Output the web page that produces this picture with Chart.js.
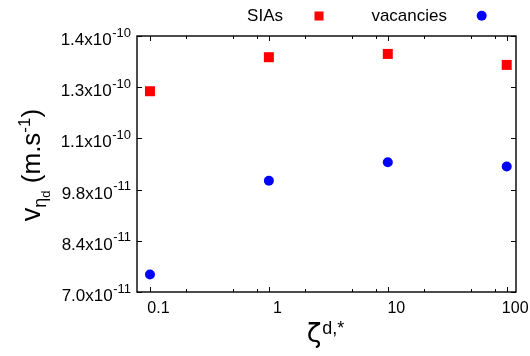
<!DOCTYPE html>
<html><head><meta charset="utf-8">
<script src="https://cdn.jsdelivr.net/npm/chart.js@4"></script>
<style>html,body{margin:0;padding:0;background:#fff}#wrap{width:530px;height:356px;position:relative}</style>
</head><body><div id="wrap"><canvas id="c"></canvas></div>
<script>
const xValues=[0.1,1,10,100];
const siaValues=[1.249e-10,1.342e-10,1.351e-10,1.321e-10];
const vacancyValues=[7.48e-11,1.004e-10,1.055e-10,1.043e-10];
const yTickValues=[7.0e-11,8.4e-11,9.8e-11,1.12e-10,1.26e-10,1.4e-10];
const yTickMantissas=['7.0','8.4','9.8','1.1','1.3','1.4'];
const yTickExponents=['-11','-11','-11','-10','-10','-10'];
const xTickValues=[0.1,1,10,100];
const xTickLabels=['0.1','1','10','100'];
const xMinorTickValues=[0.2,0.5,0.8,2,5,8,20,50,80];
const seriesNames=['SIAs','vacancies'];

const FONT='"Liberation Sans", Arial, Helvetica, sans-serif';
function f(s,fam){return s+'px '+(fam||FONT);}
function drawPieces(ctx,pieces,x,y){
  let w=0;pieces.forEach(p=>{ctx.font=f(p.size,p.fam);p.w=ctx.measureText(p.t).width;w+=p.w+(p.gap||0);});
  let cx=x-w/2;
  pieces.forEach(p=>{cx+=(p.gap||0);ctx.font=f(p.size,p.fam);ctx.fillText(p.t,cx,y+p.dy);cx+=p.w;});
}
const deco={id:'deco',
 afterDatasetsDraw(chart){
  const ctx=chart.ctx,a=chart.chartArea,xs=chart.scales.x,ys=chart.scales.y;
  ctx.save();
  ctx.strokeStyle='#000';ctx.lineWidth=1.4;
  ctx.strokeRect(a.left,a.top,a.right-a.left,a.bottom-a.top);
  ctx.lineWidth=1;ctx.beginPath();
  xTickValues.forEach(v=>{const p=Math.round(xs.getPixelForValue(v))+0.5;ctx.moveTo(p,a.bottom);ctx.lineTo(p,a.bottom-5);ctx.moveTo(p,a.top);ctx.lineTo(p,a.top+5);});
  xMinorTickValues.forEach(v=>{const p=Math.round(xs.getPixelForValue(v))+0.5;ctx.moveTo(p,a.bottom);ctx.lineTo(p,a.bottom-3);ctx.moveTo(p,a.top);ctx.lineTo(p,a.top+3);});
  yTickValues.forEach(v=>{const p=Math.round(ys.getPixelForValue(v))+0.5;ctx.moveTo(a.left,p);ctx.lineTo(a.left+5,p);ctx.moveTo(a.right,p);ctx.lineTo(a.right-5,p);});
  ctx.stroke();
  ctx.fillStyle='#000';ctx.textBaseline='alphabetic';
  // x tick labels
  ctx.font=f(16);ctx.textAlign='center';
  xTickValues.forEach((v,i)=>{ctx.fillText(xTickLabels[i],xs.getPixelForValue(v)+8.5,313);});
  // y tick labels
  yTickValues.forEach((v,i)=>{
    const p=ys.getPixelForValue(v);const xe=a.left-6;
    ctx.font=f(13);ctx.textAlign='left';const ew=ctx.measureText(yTickExponents[i]).width;
    ctx.fillText(yTickExponents[i],xe-ew,p+0.5);
    ctx.font=f(17);ctx.textAlign='right';
    ctx.fillText(yTickMantissas[i]+'x10',xe-ew-0.5,p+9);
  });
  ctx.textAlign='left';
  // x title
  drawPieces(ctx,[{t:'ζ',size:27,dy:0,fam:'"DejaVu Sans", sans-serif'},{t:'d,*',size:18,dy:-8,gap:1}],(a.left+a.right)/2-1,342);
  // y title
  ctx.save();ctx.translate(40,(a.top+a.bottom)/2+1);ctx.rotate(-Math.PI/2);
  drawPieces(ctx,[{t:'v',size:27,dy:0},{t:'η',size:18,dy:6},{t:'d',size:13,dy:10},{t:' (m.s',size:26,dy:0},{t:'-1',size:17,dy:-10},{t:')',size:26,dy:0}],0,0);
  ctx.restore();
  // legend
  ctx.font=f(17);ctx.textAlign='right';
  ctx.fillText(seriesNames[0],283,21);
  ctx.fillText(seriesNames[1],447,21);
  ctx.fillStyle='#ff0000';ctx.fillRect(314.5,11.5,9,9);
  ctx.fillStyle='#0000ff';ctx.beginPath();ctx.arc(481.7,15.7,5,0,Math.PI*2);ctx.fill();
  ctx.restore();
 }};
new Chart(document.getElementById('c'),{
  type:'scatter',
  data:{datasets:[
    {label:seriesNames[0],data:xValues.map((x,i)=>({x:x,y:siaValues[i]})),pointStyle:'rect',pointRadius:7.07,pointHoverRadius:7.07,backgroundColor:'#ff0000',borderWidth:0,pointBorderWidth:0},
    {label:seriesNames[1],data:xValues.map((x,i)=>({x:x,y:vacancyValues[i]})),pointStyle:'circle',pointRadius:5,pointHoverRadius:5,backgroundColor:'#0000ff',borderWidth:0,pointBorderWidth:0}
  ]},
  options:{responsive:true,maintainAspectRatio:false,animation:false,devicePixelRatio:1,
    layout:{padding:{left:137,right:14,top:36,bottom:64}},
    plugins:{legend:{display:false},tooltip:{enabled:false}},
    events:[],
    scales:{
      x:{type:'logarithmic',display:false,min:0.0778,max:119.7},
      y:{type:'linear',display:false,min:7.0e-11,max:1.4e-10}
    }},
  plugins:[deco]
});
</script></body></html>
